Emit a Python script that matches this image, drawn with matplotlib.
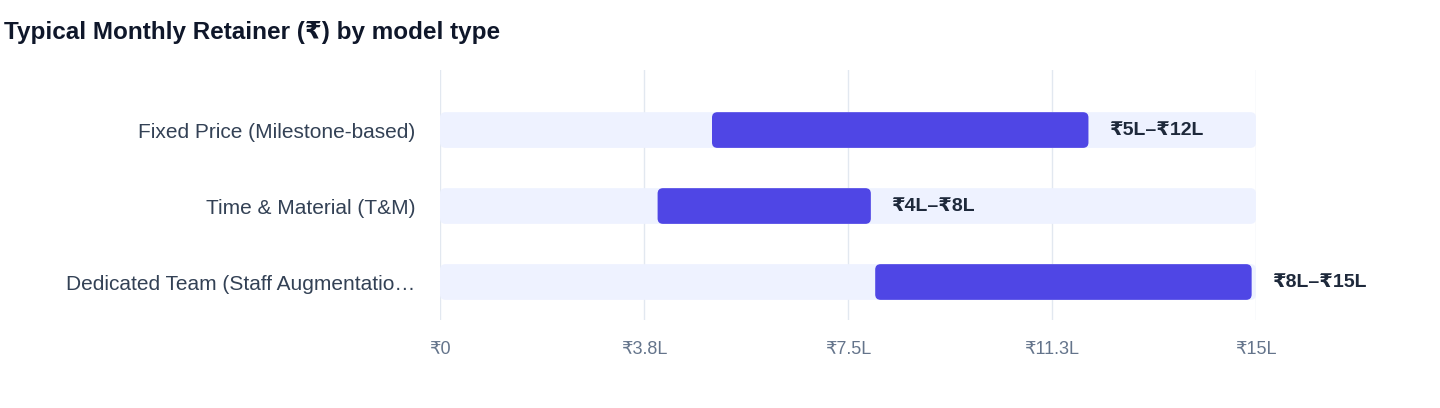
import matplotlib
matplotlib.use("Agg")
import matplotlib.pyplot as plt
from matplotlib.patches import FancyBboxPatch

plt.rcParams['font.family'] = ['Liberation Sans', 'DejaVu Sans']

categories = ["Fixed Price (Milestone-based)", "Time & Material (T&M)", "Dedicated Team (Staff Augmentatio\u2026"]
low = [5, 4, 8]
high = [12, 8, 15]
labels = ["₹5L–₹12L", "₹4L–₹8L", "₹8L–₹15L"]
xmax = 15
ticks = [0, 3.75, 7.5, 11.25, 15]
tick_labels = ["₹0", "₹3.8L", "₹7.5L", "₹11.3L", "₹15L"]

fig = plt.figure(figsize=(14.4, 4.08), dpi=100)
ax = fig.add_axes([440/1440, 1-320/408, 816/1440, 250/408])
ax.set_xlim(0, xmax)
ax.set_ylim(2.5, -0.79)
h = 0.47
asp = (6/76) / (6/54.4)
for i, (lo, hi, lab) in enumerate(zip(low, high, labels)):
    pad = 0.1
    bg = FancyBboxPatch((0 + pad, i - h/2 + pad*asp), xmax - 2*pad, h - 2*pad*asp,
                        boxstyle=f"round,pad={pad}", mutation_aspect=asp,
                        fc="#eef2ff", ec="none", zorder=1)
    ax.add_patch(bg)
    fg = FancyBboxPatch((lo + pad, i - h/2 + pad*asp), hi - lo - 2*pad - 0.08, h - 2*pad*asp,
                        boxstyle=f"round,pad={pad}", mutation_aspect=asp,
                        fc="#4f46e5", ec="none", zorder=2)
    ax.add_patch(fg)
    ax.text(hi + 0.3, i, lab, va="center", ha="left", fontsize=14,
            fontweight="bold", color="#1e293b", zorder=3)

ax.set_xticks(ticks)
ax.set_xticklabels(tick_labels, fontsize=13, color="#64748b")
ax.set_yticks(range(len(categories)))
ax.set_yticklabels(categories, fontsize=15, color="#334155")
ax.tick_params(axis="both", length=0)
ax.tick_params(axis="x", pad=15)
ax.tick_params(axis="y", pad=18)
ax.grid(axis="x", color="#e2e8f0", lw=1, zorder=0)
ax.set_axisbelow(True)
for s in ax.spines.values():
    s.set_visible(False)

fig.text(4/1440, 1-32/408, "Typical Monthly Retainer (₹) by model type", fontsize=17.5,
         fontweight="bold", color="#0f172a", va="center", ha="left")
fig.savefig("out.png", dpi=100, facecolor="white")
